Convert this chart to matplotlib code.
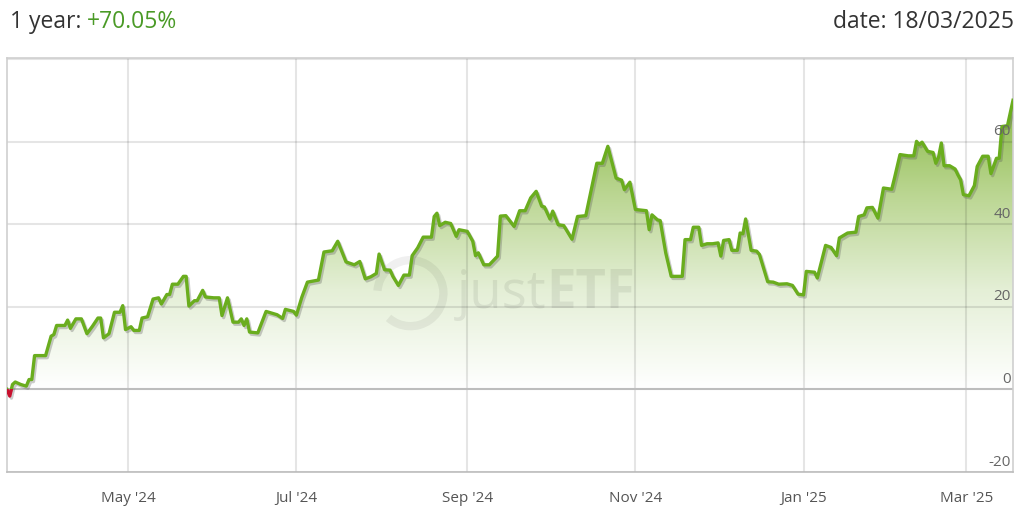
#!/usr/bin/env python3
"""
justETF style 1-year performance chart, saved to out.png.
"""

import matplotlib
matplotlib.use("Agg")

import matplotlib.pyplot as plt
import matplotlib.dates as mdates
import matplotlib.patheffects as pe
from matplotlib.colors import LinearSegmentedColormap
from matplotlib.patches import Rectangle, Arc
import numpy as np

# ---- data ----
START = "2024-03-18"
END = "2025-03-18"
days = [0, 1, 2, 3, 5, 7, 8, 9, 10, 14, 16, 17, 18, 21, 22, 23, 25, 27, 29, 31,
        33, 34, 35, 37, 39, 41, 42, 43, 45, 46, 48, 49, 51, 53, 55, 56, 58, 59, 60, 62,
        64, 65, 66, 68, 69, 71, 72, 75, 77, 78, 80, 82, 84, 85, 86, 87, 88, 91, 94, 98,
        100, 101, 104, 105, 107, 109, 113, 115, 118, 120, 123, 126, 128, 130, 132, 134, 135, 137, 139, 140,
        142, 144, 146, 147, 149, 151, 154, 155, 156, 157, 159, 161, 163, 164, 167, 169, 170, 171, 173, 175,
        178, 179, 181, 184, 186, 188, 190, 192, 194, 195, 197, 198, 200, 202, 205, 207, 210, 214, 216, 218,
        221, 223, 224, 226, 228, 232, 233, 234, 236, 237, 239, 241, 245, 246, 248, 249, 251, 252, 254, 256,
        258, 259, 260, 262, 263, 265, 266, 267, 268, 270, 272, 273, 276, 278, 280, 283, 285, 287, 289, 290,
        293, 294, 297, 299, 301, 302, 305, 308, 309, 311, 312, 314, 316, 318, 321, 322, 324, 327, 329, 330,
        331, 332, 334, 336, 337, 338, 339, 340, 342, 344, 345, 346, 347, 349, 351, 352, 354, 356, 357, 359,
        360, 361, 363, 365]
perf = [0.0, -1.6, 1.2, 1.8, 1.2, 0.8, 2.4, 2.4, 8.2, 8.2, 12.9, 13.3, 15.5, 15.5, 16.8, 14.8, 17.1, 17.1, 13.5, 15.3,
        17.3, 17.3, 12.5, 13.5, 18.7, 18.7, 20.3, 14.5, 15.2, 14.3, 14.3, 17.3, 17.6, 21.9, 22.2, 20.7, 23.0, 23.0, 25.5, 25.5,
        27.4, 27.4, 20.2, 21.5, 21.5, 24.0, 22.4, 22.2, 22.2, 17.9, 22.2, 16.3, 16.3, 17.1, 15.5, 17.1, 13.9, 13.7, 18.9, 18.1,
        17.2, 19.4, 18.9, 18.0, 22.4, 26.0, 26.5, 33.3, 33.6, 35.9, 30.9, 30.2, 31.0, 26.8, 27.3, 28.1, 32.8, 29.0, 28.9, 27.4,
        25.2, 27.7, 27.7, 32.4, 34.3, 36.9, 36.9, 41.9, 42.7, 39.7, 40.5, 40.2, 37.1, 38.7, 38.3, 35.9, 32.4, 33.1, 30.2, 30.2,
        32.3, 42.0, 42.1, 39.5, 43.3, 43.3, 46.4, 48.0, 44.4, 44.2, 41.3, 43.2, 39.9, 39.7, 36.4, 41.9, 42.1, 54.8, 54.8, 58.9,
        51.2, 50.7, 48.4, 50.2, 43.6, 43.3, 38.7, 42.3, 41.1, 40.9, 33.1, 27.4, 27.4, 36.3, 36.3, 39.3, 39.3, 34.9, 35.3, 35.3,
        35.5, 32.3, 36.1, 36.3, 33.7, 33.7, 37.9, 37.7, 41.3, 33.7, 33.5, 32.7, 26.1, 26.0, 25.5, 25.6, 25.2, 23.1, 22.9, 28.6,
        28.4, 27.0, 34.9, 34.4, 32.4, 36.7, 37.9, 38.1, 41.9, 42.3, 44.0, 44.1, 41.5, 48.8, 48.5, 51.2, 56.9, 56.6, 56.6, 60.1,
        59.3, 59.9, 57.7, 57.4, 54.8, 56.3, 59.7, 54.2, 54.2, 53.4, 52.0, 50.8, 47.2, 46.9, 49.4, 54.0, 56.5, 56.5, 52.3, 56.0,
        56.0, 63.7, 63.9, 70.05]

y_ticks = [-20, 0, 20, 40, 60]
period_label = "1 year: "
return_label = "+70.05%"
date_label = "date: 18/03/2025"


def main() -> None:
    plt.rcParams["font.family"] = ["Open Sans", "DejaVu Sans"]

    x = np.datetime64(START) + np.array(days).astype("timedelta64[D]")
    y = np.array(perf)
    xmin, xmax = mdates.date2num(np.datetime64(START)), mdates.date2num(np.datetime64(END))
    xn = mdates.date2num(x)

    fig = plt.figure(figsize=(10.24, 5.09), dpi=100)
    ax = fig.add_axes([7 / 1024, 37 / 509, 1006 / 1024, 414 / 509])
    ax.set_xlim(xmin, xmax)
    ax.set_ylim(-20, 80.3)

    # gradient fill under the line (single polygon used as clip path)
    cmap = LinearSegmentedColormap.from_list("g", ["#ffffff", "#e4efd6", "#b9d58f", "#84b63f"])
    grad = np.linspace(0, 1, 256).reshape(-1, 1)
    img = ax.imshow(grad, cmap=cmap, origin="lower", aspect="auto",
                    extent=(xmin, xmax, 0, 72), zorder=1)
    poly = ax.fill_between(xn, np.maximum(y, 0), 0, color="none", lw=0, zorder=1)
    img.set_clip_path(poly.get_paths()[0], transform=ax.transData)
    ax.fill_between(xn, np.minimum(y, 0), 0, color="#e3b0b0", lw=0, zorder=1)

    # grid, drawn semi-transparent over the fill
    for v in y_ticks + [80]:
        if v == 0:
            ax.axhline(v, color="#bdbdbd", lw=1.5, zorder=2)
        else:
            ax.axhline(v, color="black", alpha=0.1, lw=1.5, zorder=1.2)
    months = mdates.MonthLocator(bymonth=[1, 3, 5, 7, 9, 11])
    ax.xaxis.set_major_locator(months)
    ax.xaxis.set_major_formatter(mdates.DateFormatter("%b '%y"))
    for t in months.tick_values(mdates.num2date(xmin), mdates.num2date(xmax)):
        if xmin < t < xmax:
            ax.axvline(t, color="black", alpha=0.1, lw=1.5, zorder=1.2)

    # watermark
    wm = ax.text(0.447, 0.396, "just", transform=ax.transAxes, fontsize=38, color="#000000",
                 alpha=0.07, ha="left", va="baseline", zorder=1.5)
    ax.annotate("ETF", xy=(1, 0), xycoords=wm, va="bottom", ha="left", fontsize=38,
                fontweight="bold", color="#000000", alpha=0.07, zorder=1.5)
    ax.add_patch(Arc((0.401, 0.432), 66 / 1006, 66 / 414, theta1=-110, theta2=170,
                     transform=ax.transAxes, lw=6, color="#000000", alpha=0.06, zorder=1.5))

    # line: green above zero, red below, with drop shadow
    effects = [pe.SimpleLineShadow(offset=(1.2, -1.5), shadow_color="#555555", alpha=0.3), pe.Normal()]
    (g_line,) = ax.plot(xn, y, color="#6aad1e", lw=2.4, zorder=3, path_effects=effects,
                        solid_joinstyle="round")
    (r_line,) = ax.plot(xn, y, color="#c8102e", lw=2.4, zorder=3, path_effects=effects)
    g_line.set_clip_path(Rectangle((xmin, 0), xmax - xmin, 100, transform=ax.transData))
    r_line.set_clip_path(Rectangle((xmin, -30), xmax - xmin, 30, transform=ax.transData))

    # axes styling
    for s in ax.spines.values():
        s.set_color("#cfcfcf")
        s.set_linewidth(1.2)
    ax.spines["bottom"].set_color("#bdbdbd")
    ax.set_yticks([])
    ax.tick_params(axis="x", length=0, pad=14, labelsize=11, labelcolor="#555555")
    for v in y_ticks:
        ax.text(0.998, v + 0.6, str(v), transform=ax.get_yaxis_transform(), ha="right",
                va="bottom", fontsize=11, color="#666666", zorder=4)

    # header
    t1 = fig.text(10 / 1024, 1 - 22 / 509, period_label, fontsize=16.5, color="#333333", va="center")
    ax.annotate(return_label, xy=(1, 0.5), xycoords=t1, va="center", ha="left",
                fontsize=16.5, color="#4a9a26", annotation_clip=False)
    fig.text(1014 / 1024, 1 - 22 / 509, date_label, fontsize=16.5, color="#333333",
             va="center", ha="right")

    fig.savefig("out.png", dpi=100)
    plt.close(fig)


if __name__ == "__main__":
    main()
